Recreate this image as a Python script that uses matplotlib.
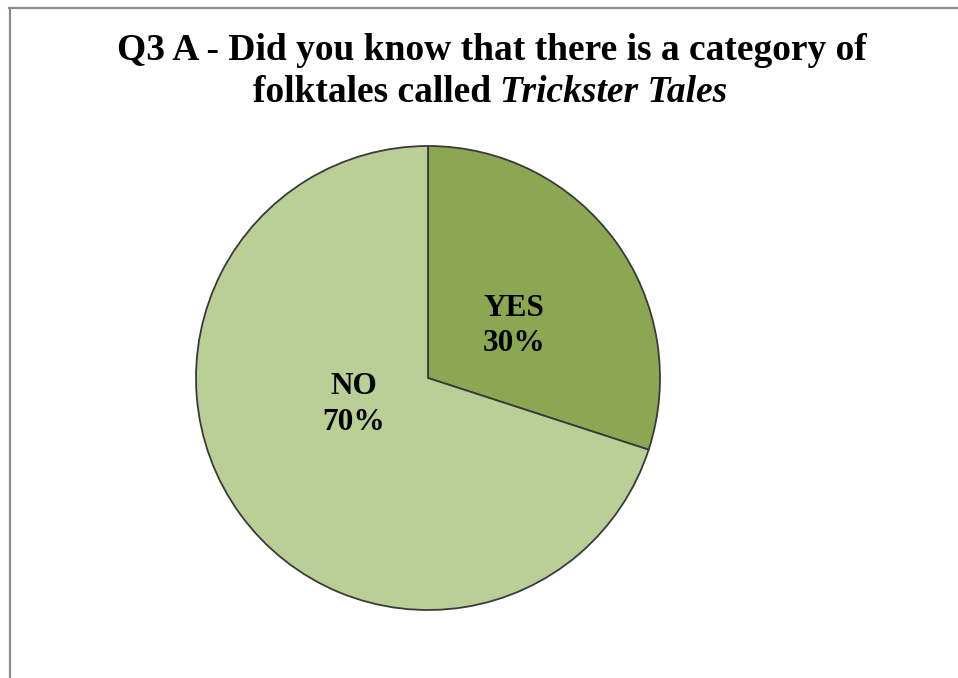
import matplotlib.pyplot as plt
from matplotlib.lines import Line2D

answers = ['YES', 'NO']
shares = [30, 70]
colors = ['#8BA752', '#B9CF96']

plt.rcParams['font.family'] = ['Liberation Serif', 'DejaVu Serif']

W, H = 958, 678
fig = plt.figure(figsize=(W / 100, H / 100), dpi=100)

# chart area frame (left and top edges only)
fig.add_artist(Line2D([9.5 / W, 9.5 / W], [0, 1 - 8 / H], transform=fig.transFigure,
                      color='#8c8c8c', lw=1.6))
fig.add_artist(Line2D([9 / W, 1], [1 - 8 / H, 1 - 8 / H], transform=fig.transFigure,
                      color='#8c8c8c', lw=1.6))

# pie centred at (428, 378) px, radius 232 px
cx, cy, r = 428, 378, 232
ax = fig.add_axes([(cx - r) / W, (H - cy - r) / H, 2 * r / W, 2 * r / H])
wedges, _ = ax.pie(shares, colors=colors, startangle=90, counterclock=False,
                   wedgeprops=dict(edgecolor='#3a3a3a', linewidth=1.3))
ax.set_xlim(-1, 1)
ax.set_ylim(-1, 1)
ax.set_aspect('equal')
ax.axis('off')

label_pos = [(0.37, 0.225), (-0.32, -0.115)]
for name, val, (x, y) in zip(answers, shares, label_pos):
    ax.text(x, y, f'{name}\n{val}%', ha='center', va='center', fontsize=22.5,
            fontweight='bold', linespacing=1.3)

# title, second line mixes upright and italic
fs = 27
fig.text(492 / W, 1 - 50 / H, 'Q3 A - Did you know that there is a category of',
         ha='center', va='center', fontsize=fs, fontweight='bold')
t1 = fig.text(0, 1 - 93 / H, 'folktales called ', ha='left', va='center',
              fontsize=fs, fontweight='bold')
t2 = fig.text(0, 1 - 93 / H, 'Trickster Tales', ha='left', va='center',
              fontsize=fs, fontweight='bold', style='italic')
fig.canvas.draw()
rend = fig.canvas.get_renderer()
w1 = t1.get_window_extent(rend).width
w2 = t2.get_window_extent(rend).width
x0 = 490 - (w1 + w2) / 2
t1.set_x(x0 / W)
t2.set_x((x0 + w1) / W)

fig.savefig('out.png', dpi=100)
